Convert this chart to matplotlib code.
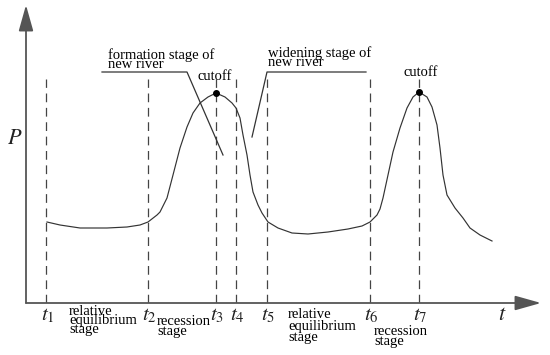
import numpy as np
import matplotlib.pyplot as plt

plt.rcParams['font.family'] = ['Liberation Serif', 'DejaVu Serif']
plt.rcParams['mathtext.fontset'] = 'stix'

# stage boundaries t1..t7 (time units)
t_marks = [2.0, 12.2, 19.0, 21.0, 24.1, 34.4, 39.3]
t_names = [r'$t_1$', r'$t_2$', r'$t_3$', r'$t_4$', r'$t_5$', r'$t_6$', r'$t_7$']

# P(t) curve
curve_t = [2.1, 3.4, 5.4, 8.1, 10.1, 11.4, 12.2, 13.1, 13.4, 14.1, 14.7, 15.4, 16.1,
           16.7, 17.4, 18.2, 19.0, 19.9, 20.6, 21.0, 21.4, 21.7, 22.1, 22.4, 22.7,
           23.2, 23.6, 24.2, 25.2, 26.6, 28.2, 30.2, 32.2, 33.6, 34.4, 35.1, 35.4,
           35.7, 36.2, 36.7, 37.4, 38.1, 38.7, 39.3, 40.1, 40.6, 41.1, 41.4, 41.7,
           42.1, 42.9, 43.7, 44.4, 45.4, 46.6]
curve_p = [8.1, 7.8, 7.5, 7.5, 7.6, 7.8, 8.1, 8.8, 9.1, 10.5, 12.8, 15.5, 17.6,
           19.0, 20.0, 20.6, 21.0, 20.6, 20.0, 19.5, 18.5, 16.8, 14.8, 12.8, 11.1,
           9.8, 9.0, 8.1, 7.5, 7.0, 6.9, 7.1, 7.4, 7.7, 8.1, 8.8, 9.4,
           10.5, 12.8, 15.1, 17.5, 19.5, 20.6, 21.1, 20.6, 19.6, 17.8, 15.5, 12.8,
           10.8, 9.5, 8.5, 7.5, 6.8, 6.2]

# cutoff points (at t3 and t7)
cutoff_t = [19.0, 39.3]
cutoff_p = [21.0, 21.1]

stage_labels = ['relative\nequilibrium\nstage', 'recession\nstage',
                'relative\nequilibrium\nstage', 'recession\nstage']

fig = plt.figure(figsize=(5.5, 3.55), dpi=100)
ax = fig.add_axes([26/550, 52/355, 515/550, 298/355])
ax.set_xlim(0, 51.5)
ax.set_ylim(0, 29.8)
ax.axis('off')

axis_col = '#555555'
line_col = '#333333'

# axes with arrow heads
ax.annotate('', xy=(51.5, 0), xytext=(0, 0),
            arrowprops=dict(arrowstyle='-|>,head_length=1.6,head_width=0.45',
                            color=axis_col, lw=1.3, shrinkA=0, shrinkB=0),
            annotation_clip=False)
ax.annotate('', xy=(0, 29.8), xytext=(0, 0),
            arrowprops=dict(arrowstyle='-|>,head_length=1.6,head_width=0.45',
                            color=axis_col, lw=1.3, shrinkA=0, shrinkB=0),
            annotation_clip=False)

# stage boundaries
for tm in t_marks:
    ax.plot([tm, tm], [0, 22.4], color='#444444', lw=0.9, ls=(0, (7, 4.5)))

ax.plot(curve_t, curve_p, color=line_col, lw=0.85, solid_joinstyle='round')
ax.plot(cutoff_t, cutoff_p, 'o', color='black', ms=4)

# tick labels
for tm, name in zip(t_marks, t_names):
    ax.text(tm + 0.15, -1.3, name, ha='center', va='center', fontsize=15, color='#222222')
ax.text(47.6, -1.2, r'$t$', ha='center', va='center', fontsize=16, color='#222222')
ax.text(-1.1, 16.3, r'$P$', ha='center', va='center', fontsize=16, color='#222222')

# stage labels under the axis
ax.text(4.3, -1.75, stage_labels[0], ha='left', va='center', fontsize=10.5, linespacing=0.62)
ax.text(13.1, -2.35, stage_labels[1], ha='left', va='center', fontsize=10.5, linespacing=0.62)
ax.text(26.2, -2.35, stage_labels[2], ha='left', va='center', fontsize=10.5, linespacing=0.85)
ax.text(34.8, -3.35, stage_labels[3], ha='left', va='center', fontsize=10.5, linespacing=0.62)

# annotations above the curve
ax.text(8.2, 24.3, 'formation stage of\nnew river', ha='left', va='center',
        fontsize=10.5, linespacing=0.62)
ax.plot([7.6, 16.1, 19.7], [23.1, 23.1, 14.8], color=line_col, lw=0.9)
ax.text(24.2, 24.5, 'widening stage of\nnew river', ha='left', va='center',
        fontsize=10.5, linespacing=0.62)
ax.plot([34.0, 24.1, 22.6], [23.1, 23.1, 16.6], color=line_col, lw=0.9)

ax.text(18.85, 22.7, 'cutoff', ha='center', va='center', fontsize=10.5)
ax.text(39.45, 23.0, 'cutoff', ha='center', va='center', fontsize=10.5)

fig.savefig('out.png', dpi=100)
